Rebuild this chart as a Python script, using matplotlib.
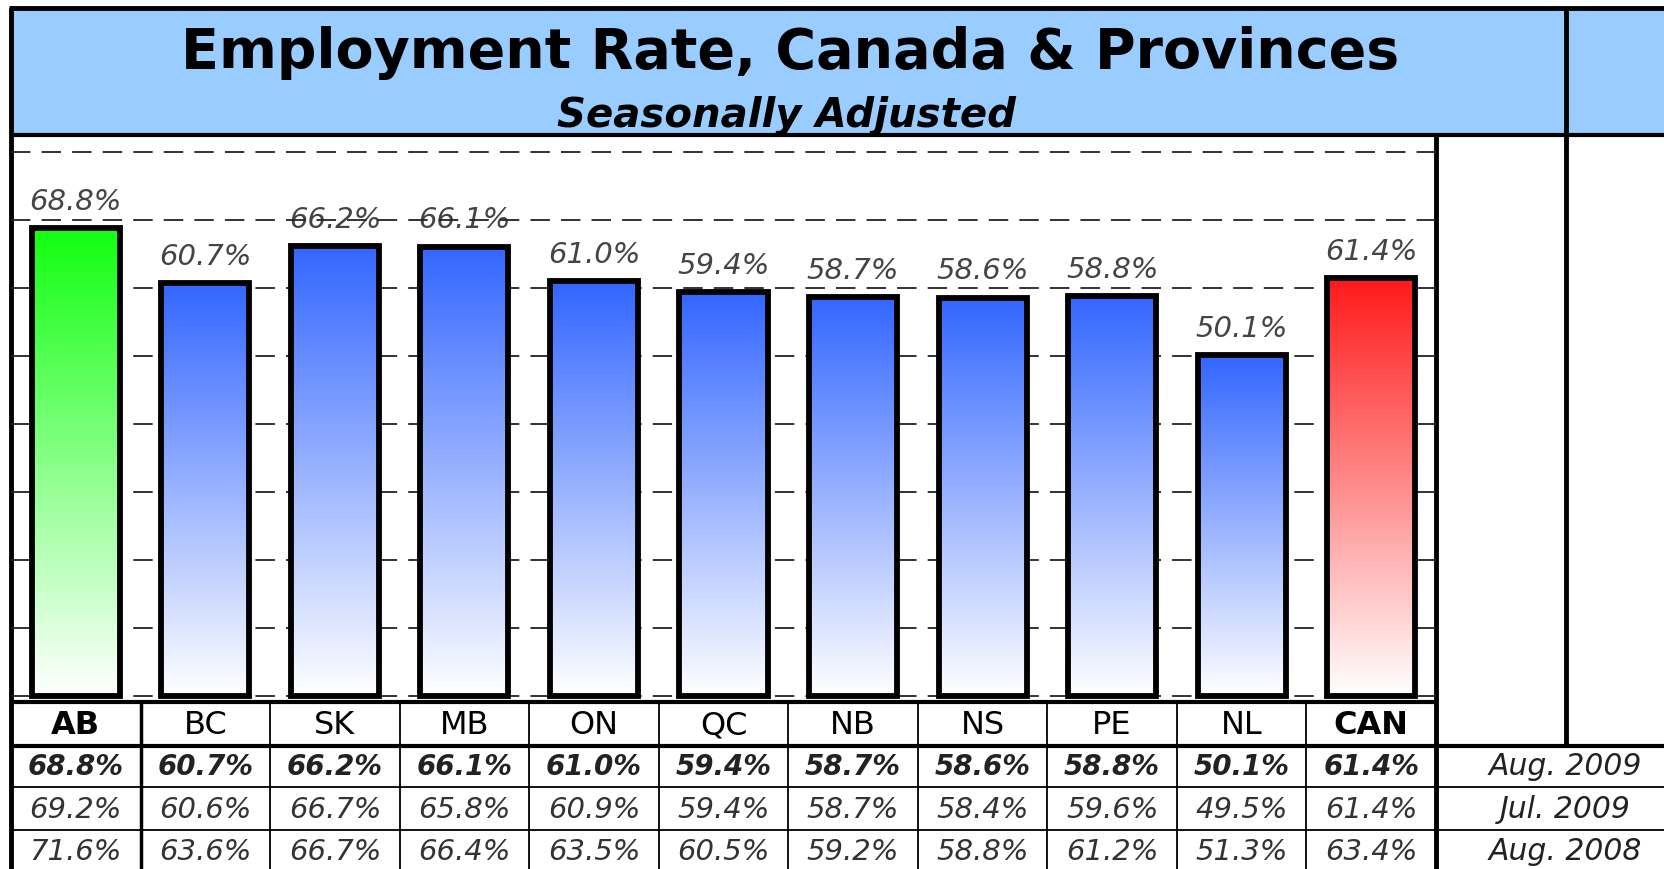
import numpy as np
import matplotlib
matplotlib.use("Agg")
import matplotlib.pyplot as plt
from matplotlib.colors import LinearSegmentedColormap

plt.rcParams['font.family'] = ['DejaVu Sans']
plt.rcParams['lines.scale_dashes'] = False

# datos
regiones = ["AB", "BC", "SK", "MB", "ON", "QC", "NB", "NS", "PE", "NL", "CAN"]
aug_2009 = [68.8, 60.7, 66.2, 66.1, 61.0, 59.4, 58.7, 58.6, 58.8, 50.1, 61.4]
jul_2009 = [69.2, 60.6, 66.7, 65.8, 60.9, 59.4, 58.7, 58.4, 59.6, 49.5, 61.4]
aug_2008 = [71.6, 63.6, 66.7, 66.4, 63.5, 60.5, 59.2, 58.8, 61.2, 51.3, 63.4]
periodos = ["Aug. 2009", "Jul. 2009", "Aug. 2008"]
colores_top = ["#11FF11"] + ["#3366FF"] * 9 + ["#FF1A1A"]

W, H = 1665, 870
fig = plt.figure(figsize=(W / 100, H / 100), dpi=100)

# capa de fondo en pixeles
bg = fig.add_axes([0, 0, 1, 1])
bg.set_xlim(0, W)
bg.set_ylim(H, 0)
bg.axis('off')

bg.add_patch(plt.Rectangle((11, 9), W - 11, 127, facecolor="#99CCFF", edgecolor="none", zorder=0))

x0, x1 = 11, 1436
col_w = (x1 - x0) / len(regiones)

def linea(xs, ys, lw):
    bg.plot(xs, ys, color="black", lw=lw, solid_capstyle="butt", zorder=5)

linea([9, W], [9, 9], 3.5)
linea([11, 11], [9, H], 3.5)
linea([11, W], [136, 136], 3)
linea([1566, 1566], [9, 747], 3.5)
linea([x1, x1], [136, H], 3.5)
linea([x0, x1], [703, 703], 3)
linea([x0, W], [747, 747], 3)
linea([x0, W], [788, 788], 1.3)
linea([x0, W], [831, 831], 1.3)
for i in range(1, len(regiones)):
    xc = x0 + i * col_w
    linea([xc, xc], [703, H], 2.5 if i == 1 else 1.3)

# titulos
bg.text(790, 53, "Employment Rate, Canada & Provinces", ha="center", va="center",
        fontsize=40, fontweight="bold", zorder=6)
bg.text(787, 116, "Seasonally Adjusted", ha="center", va="center",
        fontsize=29, fontweight="bold", style="italic", zorder=6)

# tabla
filas_y = [767, 810, 852]
for i, reg in enumerate(regiones):
    xc = x0 + (i + 0.5) * col_w
    bold = reg in ("AB", "CAN")
    bg.text(xc, 726, reg, ha="center", va="center", fontsize=23,
            fontweight="bold" if bold else "normal", zorder=6)
    bg.text(xc, filas_y[0], f"{aug_2009[i]:.1f}%", ha="center", va="center",
            fontsize=20, fontweight="bold", style="italic", color="#222222", zorder=6)
    bg.text(xc, filas_y[1], f"{jul_2009[i]:.1f}%", ha="center", va="center",
            fontsize=21, style="italic", color="#333333", zorder=6)
    bg.text(xc, filas_y[2], f"{aug_2008[i]:.1f}%", ha="center", va="center",
            fontsize=21, style="italic", color="#333333", zorder=6)
for p, yy in zip(periodos, filas_y):
    bg.text(1565, yy, p, ha="center", va="center", fontsize=21.5,
            style="italic", color="#222222", zorder=6)

# grafico de barras
ax = fig.add_axes([x0 / W, (H - 703) / H, (x1 - x0) / W, (703 - 136) / H])
ax.patch.set_alpha(0)
ancho = 0.68
for i, v in enumerate(aug_2009):
    cmap = LinearSegmentedColormap.from_list("g", ["#FFFFFF", colores_top[i]])
    grad = np.linspace(0, 1, 256).reshape(-1, 1)
    ax.imshow(grad, cmap=cmap, origin="lower", aspect="auto",
              extent=[i - ancho / 2, i + ancho / 2, 0, v], zorder=2.5)
ax.bar(range(len(regiones)), aug_2009, width=ancho, facecolor="none",
       edgecolor="black", linewidth=4.2, zorder=3)
for yv in range(0, 90, 10):
    ax.axhline(yv, color="#222222", lw=1.3, dashes=(14, 8), zorder=1)
for i, v in enumerate(aug_2009):
    ax.text(i, v + 4.0, f"{v:.1f}%", ha="center", va="center", fontsize=21,
            style="italic", color="#444444", zorder=0.5)

ax.set_xlim(-0.5, 10.5)
ax.set_ylim(-0.88, 82.5)
ax.axis('off')

fig.savefig("out.png", dpi=100)
